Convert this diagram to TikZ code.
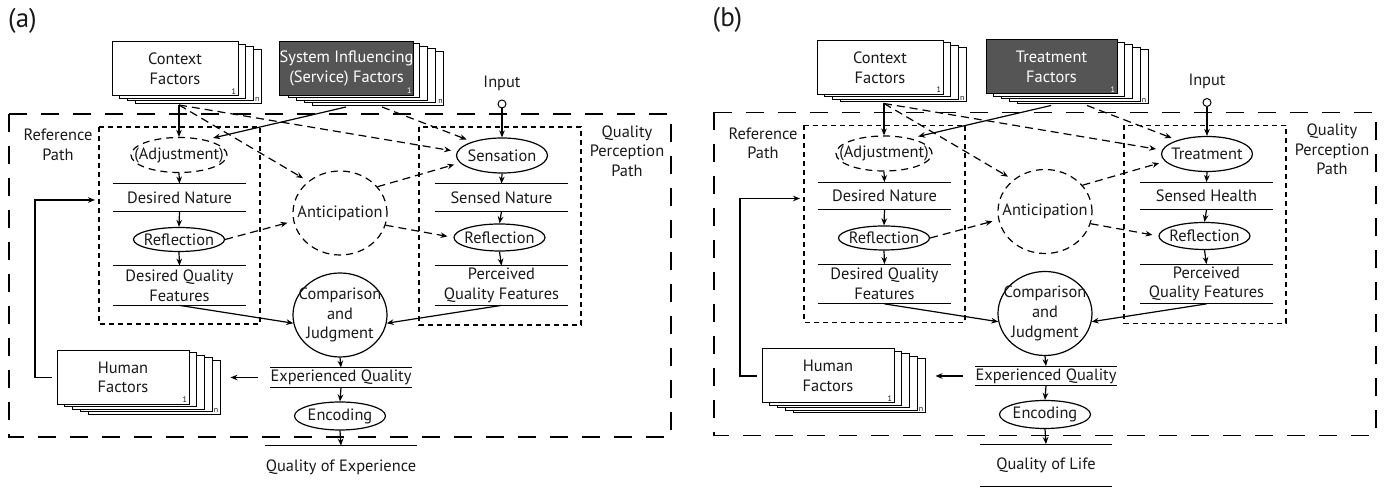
\documentclass[tikz,border=0pt]{standalone}
\usepackage{fontspec}
\setmainfont{PT Sans}
\usetikzlibrary{shapes.geometric,arrows.meta,calc}

\definecolor{sysgray}{RGB}{85,85,85}
\newcommand{\qf}{\fontsize{8.2}{9.8}\selectfont}

\tikzset{
  every node/.style={font=\qf, text=black!90},
  factor/.style={draw, fill=white, line width=.5pt, minimum height=27pt, inner sep=0pt, align=center},
  sheetno/.style={font=\fontsize{4}{4}\selectfont, inner sep=1pt},
  proc/.style={ellipse, draw, line width=.6pt, inner sep=0pt},
  dproc/.style={proc, dash pattern=on 3.5pt off 2.5pt},
  store/.style={inner sep=0pt, minimum width=66.5pt, align=center},
  storeline/.style={line width=.55pt},
  arr/.style={-{Stealth[length=3.5pt,width=2.8pt]}, line width=.6pt},
  darr/.style={arr, dash pattern=on 4pt off 2.5pt, shorten >=3pt},
  pathbox/.style={line width=.55pt, dash pattern=on 2.5pt off 2pt},
  outerbox/.style={line width=.6pt, dash pattern=on 9pt off 7pt},
}

\newcommand{\factorstack}[6]{%
  \foreach \k in {#3,...,1}
    \node[factor, minimum width=#4] at ($(#2)+(7.8*\k,2.5*\k)$) {};
  \node[factor, minimum width=#4, #5] (#1) at (#2) {#6};
  \node[sheetno, #5, fill=none, anchor=south east] at (#1.south east) {1};
  \node[sheetno, anchor=south east] at ($(#1.south east)+(7.8*#3,2.5*#3)$) {n};
}

\newcommand{\qualitymodel}[7]{%
\begin{scope}[shift={(#2)}]
  \node[font=\fontsize{13.5}{15}\selectfont] (#1lab) at (22.5,21) {(#3)};
  \draw[outerbox] (9,114) rectangle (671,437);
  \draw[pathbox] (99,127) rectangle (260,324);
  \draw[pathbox] (419,127) rectangle (581,325);
  \node[align=center] (#1rp) at (58,145) {Reference\\Path};
  \node[align=center] (#1qp) at (627,151) {Quality\\Perception\\Path};
  \factorstack{#1ctx}{175,69}{3}{63pt}{}{Context\\Factors}
  \factorstack{#1sys}{346.5,68.5}{4}{65.5pt}{fill=sysgray, text=white}{#4}
  \factorstack{#1hf}{123,377.5}{4}{66pt}{}{Human\\Factors}
  \coordinate (#1ctxout) at (179,105);
  \coordinate (#1sysa) at (346,107);
  \coordinate (#1sysb) at (382,107);
  \coordinate (#1fbup) at (35,200);
  \coordinate (#1fbin) at (95,200);
  \node (#1in) at (502,83) {Input};
  \node[circle, draw, line width=.5pt, minimum size=4pt, inner sep=0pt] (#1inc) at (502,104) {};
  \node[dproc, minimum width=48pt, minimum height=17.5pt, label=center:{(Adjustment)}] (#1adj) at (179,155) {};
  \node[proc, minimum width=45.5pt, minimum height=17.5pt, label=center:{#5}] (#1sens) at (502,155.5) {};
  \node[dproc, minimum width=47pt, minimum height=42pt, label=center:Anticipation] (#1antic) at (340,213) {};
  \node[proc, minimum width=45.5pt, minimum height=12pt, label=center:Reflection] (#1refll) at (179,239.5) {};
  \node[proc, minimum width=45.5pt, minimum height=13.5pt, label=center:Reflection] (#1reflr) at (499.5,237.5) {};
  \node[proc, minimum width=47pt, minimum height=42pt, label={[align=center]center:Comparison\\and\\Judgment}] (#1comp) at (340,315) {};
  \node[proc, minimum width=45.5pt, minimum height=14pt, label=center:Encoding] (#1enc) at (340,416) {};
  \node[store, minimum height=13.5pt] (#1dnat) at (179.5,197.5) {Desired Nature};
  \node[store, minimum height=13.5pt] (#1snat) at (501.5,197.5) {#6};
  \node[store, minimum height=19.5pt] (#1dqf) at (179.5,285.5) {Desired Quality\\Features};
  \node[store, minimum height=19.5pt] (#1pqf) at (501.5,285.5) {Perceived\\Quality Features};
  \node[store, minimum width=66pt, minimum height=9.5pt] (#1exq) at (341,377.5) {Experienced Quality};
  \node[store, minimum width=66pt, minimum height=21pt] (#1qo) at (341,467) {#7};
  \foreach \s in {dnat,snat,dqf,pqf,exq}
    \draw[storeline] (#1\s.north west) -- (#1\s.north east) (#1\s.south west) -- (#1\s.south east);
  \draw[storeline] (#1qo.north west) -- (#1qo.north east);
  \draw[arr] (#1ctxout) -- (#1adj.north);
  \draw[darr] (#1ctxout) -- (#1sens.175);
  \draw[darr] (#1ctxout) -- (#1antic.135);
  \draw[arr, shorten >=4pt] (#1sysa) -- (#1adj.30);
  \draw[darr] (#1sysb) -- (#1sens.155);
  \draw[darr] (#1antic.35) -- (#1sens.190);
  \draw[darr] (#1refll.east) -- (#1antic.190);
  \draw[darr] (#1antic.345) -- (#1reflr.west);
  \draw[arr] (#1inc) -- (#1sens.north);
  \draw[arr] (#1adj.south) -- (#1dnat.north);
  \draw[arr] (#1dnat.south) -- (#1refll.north);
  \draw[arr] (#1refll.south) -- (#1dqf.north);
  \draw[arr] (#1sens.south) -- (#1snat.north);
  \draw[arr] (#1snat.south) -- (#1reflr.north);
  \draw[arr] (#1reflr.south) -- (#1pqf.north);
  \draw[arr] (#1dqf.south) -- (#1comp.190);
  \draw[arr] (#1pqf.south) -- (#1comp.350);
  \draw[arr] (#1comp.south) -- (#1exq.north);
  \draw[arr] (#1exq.south) -- (#1enc.north);
  \draw[arr] (#1enc.south) -- (#1qo.north);
  \draw[arr, shorten <=6pt] (#1exq.west) -- ([xshift=20.5pt]#1hf.east);
  \draw[arr] ([xshift=-2.5pt]#1hf.west) -| (#1fbup) -- (#1fbin);
\end{scope}}

\begin{document}
\begin{tikzpicture}[x=0.5pt, y=-0.5pt]
\useasboundingbox (0,0) rectangle (1389,490);
\qualitymodel{a}{0,0}{a}{System Influencing\\(Service) Factors}{Sensation}{Sensed Nature}{Quality of Experience}
\qualitymodel{b}{705,-1.5}{b}{Treatment\\Factors}{Treatment}{Sensed Health}{Quality of Life}
\draw[storeline] (bqo.south west) -- (bqo.south east);
\end{tikzpicture}
\end{document}
